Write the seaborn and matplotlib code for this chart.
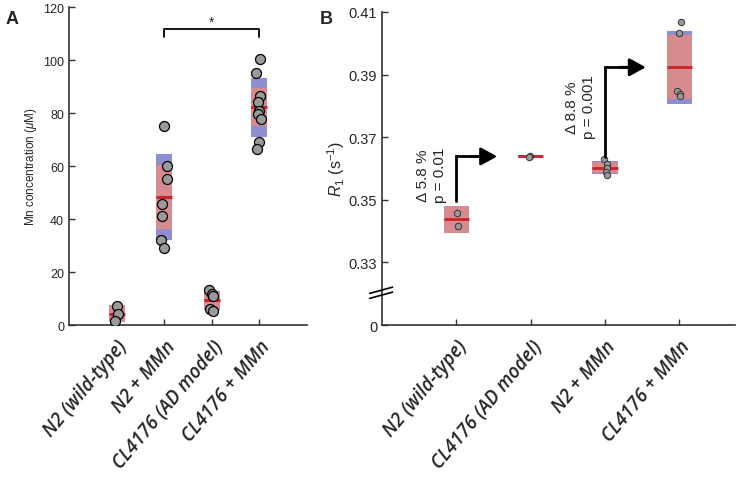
import numpy as np
import pandas as pd
import seaborn as sns
import matplotlib.pyplot as plt

# panel A: Mn concentration (uM)
mn_groups = ["N2 (wild-type)", "N2 + MMn", "CL4176 (AD model)", "CL4176 + MMn"]
mn_n2 = [7.2, 4.1, 1.5]
mn_n2_mmn = [75.0, 60.0, 55.0, 45.5, 41.0, 32.0, 29.0]
mn_cl = [13.2, 11.8, 10.8, 6.0, 5.2]
mn_cl_mmn = [100.4, 95.0, 86.3, 84.0, 80.9, 79.6, 77.7, 68.9, 66.4]
mn_ticks = [0, 20, 40, 60, 80, 100, 120]

# panel B: R1 (1/s), broken axis, bottom tick stands for 0
r1_groups = ["N2 (wild-type)", "CL4176 (AD model)", "N2 + MMn", "CL4176 + MMn"]
r1_n2 = [0.3459, 0.3416]
r1_cl = [0.3641, 0.3636]
r1_n2_mmn = [0.3630, 0.3614, 0.3602, 0.3590, 0.3580]
r1_cl_mmn = [0.4067, 0.4032, 0.3848, 0.3838, 0.3832]
r1_ticks = [0.31, 0.33, 0.35, 0.37, 0.39, 0.41]
r1_ticklabels = ["0", "0.33", "0.35", "0.37", "0.39", "0.41"]

# changes shown by arrows (label, from group, to group)
changes = [("\u0394 5.8 %\np = 0.01", 0, 1), ("\u0394 8.8 %\np = 0.001", 2, 3)]

sns.set_style("ticks")
plt.rcParams['font.family'] = ['Liberation Sans', 'DejaVu Sans']
plt.rcParams['mathtext.fontset'] = 'custom'
plt.rcParams['mathtext.rm'] = 'Liberation Sans'
plt.rcParams['mathtext.it'] = 'Liberation Sans:italic'

BLUE = "#8e8ed2"
PINK = "#d98a8e"
RED = "#c8232b"
HALF = 0.17


def long_df(groups, series):
    rows = []
    for g, vals in zip(groups, series):
        for v in vals:
            rows.append((g, v))
    return pd.DataFrame(rows, columns=["group", "value"])


def not_box(ax, series, lw_mean=2.2):
    # mean (red), 95% CI (pink), SD (blue)
    for i, vals in enumerate(series):
        v = np.array(vals)
        m = v.mean()
        sd = v.std(ddof=1)
        ci = 1.96 * sd / np.sqrt(len(v))
        ax.bar(i, 2 * sd, bottom=m - sd, width=2 * HALF, color=BLUE, zorder=1, linewidth=0)
        ax.bar(i, 2 * ci, bottom=m - ci, width=2 * HALF, color=PINK, zorder=2, linewidth=0)
        ax.hlines(m, i - HALF, i + HALF, color=RED, lw=lw_mean, zorder=3)


def style_axis(ax):
    sns.despine(ax=ax)
    for s in ["left", "bottom"]:
        ax.spines[s].set_linewidth(1.2)
        ax.spines[s].set_color("#333333")
    ax.tick_params(direction="in", length=4, width=1, color="#333333")
    ax.tick_params(axis="x", pad=8)
    ax.set_xlabel("")
    for lab in ax.get_xticklabels():
        lab.set_rotation(50)
        lab.set_ha("right")
        lab.set_rotation_mode("anchor")
        lab.set_fontstyle("italic")
        lab.set_fontsize(13.5)
        lab.set_family(["Open Sans", "DejaVu Sans"])
        lab.set_fontweight("semibold")


fig = plt.figure(figsize=(7.39, 4.85), dpi=100)
axA = fig.add_axes([0.0934, 0.3278, 0.322, 0.6557])
axB = fig.add_axes([0.5169, 0.3278, 0.4777, 0.6454])

np.random.seed(3)
# ---- panel A ----
mn_series = [mn_n2, mn_n2_mmn, mn_cl, mn_cl_mmn]
dfA = long_df(mn_groups, mn_series)
not_box(axA, mn_series)
sns.stripplot(data=dfA, x="group", y="value", order=mn_groups, ax=axA, jitter=0.07,
              color="#9a9a9a", edgecolor="black", linewidth=0.9, size=7.2, zorder=5)
axA.set_xlim(-1, 4)
axA.set_ylim(0, 120)
axA.set_yticks(mn_ticks)
axA.tick_params(axis="y", labelsize=9)
axA.set_ylabel("Mn concentration ($\\mu$M)", fontsize=8.5, labelpad=3)
style_axis(axA)

# significance bracket
axA.plot([1, 1, 3, 3], [108.6, 111.7, 111.7, 108.6], color="black", lw=1.3, clip_on=False)
axA.text(2, 114.5, "*", ha="center", va="center", fontsize=10)

# ---- panel B ----
r1_series = [r1_n2, r1_cl, r1_n2_mmn, r1_cl_mmn]
dfB = long_df(r1_groups, r1_series)
not_box(axB, r1_series, lw_mean=2.0)
sns.stripplot(data=dfB, x="group", y="value", order=r1_groups, ax=axB, jitter=0.03,
              color="#9a9a9a", edgecolor="#333333", linewidth=0.7, size=4.6, zorder=5)
axB.set_xlim(-1, 3.75)
axB.set_ylim(r1_ticks[0], r1_ticks[-1])
axB.set_yticks(r1_ticks)
axB.set_yticklabels(r1_ticklabels)
axB.tick_params(axis="y", labelsize=10.5)
axB.set_ylabel("$R_1$ (s$^{-1}$)", fontsize=11.5, labelpad=1)
style_axis(axB)

# axis break marks
for dy in [0.0, 0.0016]:
    axB.plot([-0.035, 0.03], [0.3185 + dy, 0.3205 + dy], transform=axB.get_yaxis_transform(),
             color="black", lw=1.2, clip_on=False, zorder=10)

# arrows with change labels
label_y = [None, 0.3798]
for k, (label, src, dst) in enumerate(changes):
    v0 = np.array(r1_series[src])
    v1 = np.array(r1_series[dst])
    y_start = v0.mean() + 1.96 * v0.std(ddof=1) / np.sqrt(len(v0)) + 0.0015
    y_end = v1.mean()
    axB.plot([src, src, src + 0.3], [y_start, y_end, y_end], color="black", lw=2,
             solid_joinstyle="miter", zorder=6)
    axB.annotate("", xy=(src + 0.55, y_end), xytext=(src + 0.2, y_end),
                 arrowprops=dict(arrowstyle="-|>,head_length=0.55,head_width=0.3", lw=2,
                                 color="black", mutation_scale=18, shrinkA=0, shrinkB=0),
                 zorder=6)
    ty = (y_start + y_end) / 2 + 0.0015 if label_y[k] is None else label_y[k]
    axB.text(src - 0.33, ty, label, rotation=90, ha="center", va="center", fontsize=11,
             multialignment="center", linespacing=1.3)

fig.text(0.008, 0.978, "A", fontsize=13, fontweight="bold", va="top")
fig.text(0.433, 0.978, "B", fontsize=13, fontweight="bold", va="top")

fig.savefig("out.png", dpi=100)
